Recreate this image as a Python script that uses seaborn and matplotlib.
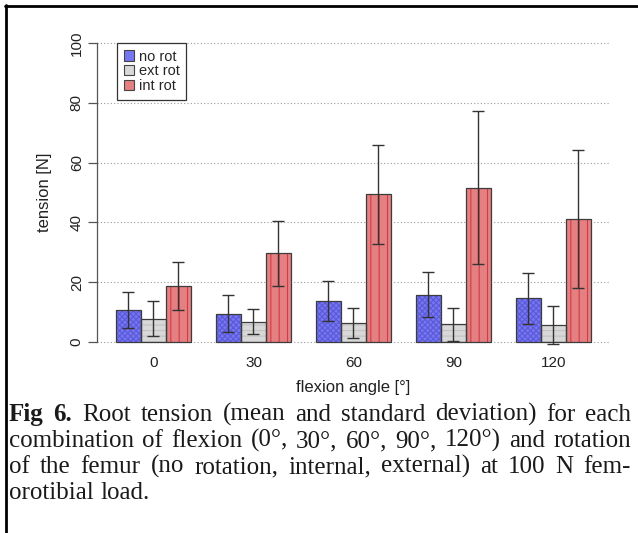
import pandas as pd
import seaborn as sns
import matplotlib.pyplot as plt
from matplotlib.patches import Patch, Rectangle
from matplotlib.lines import Line2D

# values (mean and sd of root tension, N)
angles = ["0", "30", "60", "90", "120"]
rotations = ["no rot", "ext rot", "int rot"]
no_rot_mean = [10.8, 9.4, 13.7, 15.8, 14.6]
no_rot_sd = [6.0, 6.2, 6.7, 7.5, 8.5]
ext_rot_mean = [7.8, 6.8, 6.5, 5.9, 5.7]
ext_rot_sd = [5.8, 4.2, 5.0, 5.5, 6.3]
int_rot_mean = [18.8, 29.7, 49.4, 51.6, 41.1]
int_rot_sd = [8.1, 10.8, 16.5, 25.5, 23.0]
y_ticks = [0, 20, 40, 60, 80, 100]

caption_lines = [
    "Fig 6. Root tension (mean and standard deviation) for each",
    "combination of flexion (0°, 30°, 60°, 90°, 120°) and rotation",
    "of the femur (no rotation, internal, external) at 100 N fem-",
    "orotibial load.",
]

means = [no_rot_mean, ext_rot_mean, int_rot_mean]
sds = [no_rot_sd, ext_rot_sd, int_rot_sd]
faces = ["#7676f2", "#d8d8d8", "#e48082"]
hatch_cols = ["#5a5ad8", "#c2c2c2", "#cf3d42"]
hatches = ["xxxxxx", "---", "||"]

df = pd.DataFrame({
    "angle": angles * 3,
    "rotation": [r for r in rotations for _ in angles],
    "tension": no_rot_mean + ext_rot_mean + int_rot_mean,
})

sns.set_style("white")
plt.rcParams["font.family"] = ["Liberation Sans", "DejaVu Sans"]
plt.rcParams["hatch.linewidth"] = 0.8

W, H = 638, 533
fig = plt.figure(figsize=(W / 100, H / 100), dpi=100)
ax = fig.add_axes([97 / W, 1 - 354 / H, 513 / W, 323 / H])

sns.barplot(
    data=df, x="angle", y="tension", hue="rotation",
    order=angles, hue_order=rotations, palette=faces,
    width=0.75, errorbar=None, legend=False, ax=ax, zorder=2,
)

for cont, face, hc, h, m, s in zip(ax.containers, faces, hatch_cols, hatches, means, sds):
    xs = []
    for p in cont:
        p.set_facecolor(face)
        p.set_edgecolor(hc)
        p.set_hatch(h)
        p.set_linewidth(0)
        ax.add_patch(Rectangle((p.get_x(), p.get_y()), p.get_width(), p.get_height(),
                               fill=False, ec="#3c3c3c", lw=0.9, zorder=3))
        xs.append(p.get_x() + p.get_width() / 2)
    ax.errorbar(xs, m, yerr=s, fmt="none", ecolor="#333333", elinewidth=1.0,
                capsize=4, capthick=1.0, zorder=5)

ax.set_xlim(-0.565, 4.565)
ax.set_ylim(-4, 104)
ax.set_yticks(y_ticks)
ax.set_axisbelow(True)
ax.yaxis.grid(True, linestyle=(0, (1, 2)), color="#9a9a9a", lw=0.8)
ax.xaxis.grid(False)
for side in ["top", "right", "bottom"]:
    ax.spines[side].set_visible(False)
ax.spines["left"].set_bounds(0, 100)
ax.spines["left"].set_color("#555555")
ax.spines["left"].set_linewidth(0.9)

ax.tick_params(axis="x", length=0, pad=1.5, labelsize=11, labelcolor="#222222")
ax.tick_params(axis="y", length=6.5, width=0.9, color="#555555", pad=3,
               labelsize=11, labelcolor="#222222", labelrotation=90, left=True)
for lab in ax.get_yticklabels():
    lab.set_va("center")
ax.set_xlabel("flexion angle [°]", fontsize=12, color="#222222", labelpad=7)
ax.set_ylabel("tension [N]", fontsize=12, color="#222222", labelpad=13)

handles = [Patch(facecolor=f, edgecolor="#444444", lw=0.8) for f in faces]
leg = ax.legend(handles, rotations, loc="upper left",
                bbox_to_anchor=(117 / W, 1 - 43 / H), bbox_transform=fig.transFigure,
                fontsize=10.5, frameon=True, fancybox=False, framealpha=1,
                edgecolor="#333333", borderpad=0.45, labelspacing=0.05,
                handlelength=0.7, handleheight=0.7, handletextpad=0.35,
                borderaxespad=0)
leg.get_frame().set_linewidth(0.9)

# page frame (left and top rules)
fig.add_artist(Line2D([6 / W, 6 / W], [0, 1 - 5 / H], color="black", lw=2))
fig.add_artist(Line2D([5 / W, 1], [1 - 6 / H, 1 - 6 / H], color="black", lw=2))

# justified caption, one text per word on a shared baseline
renderer = fig.canvas.get_renderer()
x0, x1 = 9, 631
fs = 18
serif = ["Liberation Serif", "DejaVu Serif"]
baselines = [421, 447, 473, 499]
for i, (line, yb) in enumerate(zip(caption_lines, baselines)):
    words = line.split(" ")
    texts, widths = [], []
    for j, w in enumerate(words):
        weight = "bold" if (i == 0 and j < 2) else "normal"
        t = fig.text(0, 1 - yb / H, w, fontsize=fs, weight=weight, family=serif,
                     color="#1a1a1a", ha="left", va="baseline")
        texts.append(t)
        widths.append(t.get_window_extent(renderer).width)
    if i < len(caption_lines) - 1:
        gap = (x1 - x0 - sum(widths)) / (len(words) - 1)
    else:
        gap = fs * 0.25 * 100 / 72
    x = x0
    for t, wd in zip(texts, widths):
        t.set_x(x / W)
        x += wd + gap

fig.savefig("out.png", dpi=100)
